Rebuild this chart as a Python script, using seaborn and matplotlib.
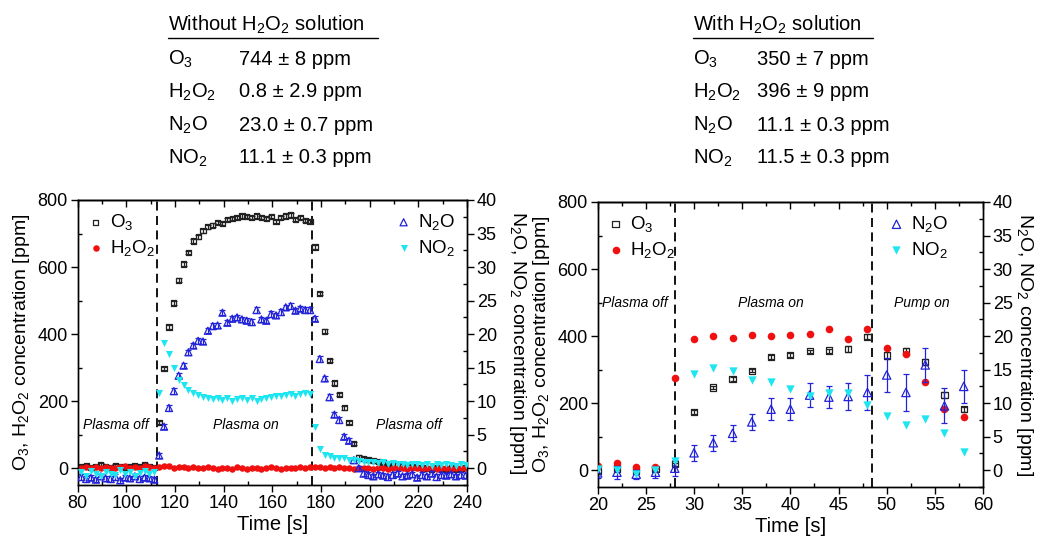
import numpy as np
import matplotlib.pyplot as plt
import seaborn as sns
from matplotlib.lines import Line2D
from matplotlib.ticker import MultipleLocator

# ================================================================================
# Data
# ================================================================================
# Left panel: without H2O2 solution (O3 / H2O2 on left axis, N2O / NO2 on right axis)
time_a = [81.5, 83.5, 85.5, 87.5, 89.5, 91.5, 93.5, 95.5, 97.5, 99.5, 101.5, 103.5,
          105.5, 107.5, 109.5, 111.5,
          113.5, 115.5, 117.5, 119.5, 121.5, 123.5, 125.5, 127.5, 129.5, 131.5, 133.5,
          135.5, 137.5, 139.5, 141.5, 143.5, 145.5, 147.5, 149.5, 151.5, 153.5, 155.5,
          157.5, 159.5, 161.5, 163.5, 165.5, 167.5, 169.5, 171.5, 173.5, 175.5,
          177.5, 179.5, 181.5, 183.5, 185.5, 187.5, 189.5, 191.5, 193.5, 195.5, 197.5,
          199.5, 201.5, 203.5, 205.5, 207.5, 209.5, 211.5, 213.5, 215.5, 217.5, 219.5,
          221.5, 223.5, 225.5, 227.5, 229.5, 231.5, 233.5, 235.5, 237.5, 239.5]
o3_a = [5, 8, 3, 6, 10, 4, 2, 7, 5, 3, 6, 9, 4, 12, 5, 3,
        137, 297, 421, 493, 561, 609, 643, 678, 690, 708, 720, 725, 733, 730, 742, 745,
        748, 752, 750, 748, 752, 747, 745, 750, 735, 748, 752, 755, 742, 748, 738, 735,
        660, 521, 409, 322, 254, 220, 180, 136, 73, 33, 28, 25, 22, 20, 18, 15,
        13, 10, 8, 6, 5, 3, 2, 0, -2, 1, 0, -3, 1, -2, 0, 2]
h2o2_a = [2, 4, 0, 3, 1, 5, 2, 0, 3, 6, 1, 4, 2, 8, 3, 2,
          4, 8, 6, 2, 5, 3, 1, 4, 2, 0, 3, 1, -2, 2, 0, -1,
          3, 1, -2, 0, 2, -1, 1, 3, 0, -2, 1, 2, 0, 4, 2, 3,
          5, 3, 2, 4, 1, 3, 0, 2, -1, 1, 0, 2, -2, 1, 0, -1,
          2, 0, 1, -1, 0, 2, -1, 0, 1, -2, 0, 1, -1, 0, 2, 0]
n2o_a = [-1.3, -1.6, -1.4, -1.7, -1.2, -1.5, -1.6, -1.3, -1.8, -1.4, -1.5, -1.2, -1.6, -1.4, -1.5, -1.7,
         1.9, 6.2, 9.0, 11.5, 13.8, 15.3, 17.3, 18.3, 19.0, 18.9, 20.5, 21.2, 21.3, 23.2, 21.7, 22.3,
         22.5, 22.2, 22.0, 21.8, 23.6, 22.2, 22.0, 23.0, 22.8, 23.3, 24.0, 24.2, 23.5, 23.8, 23.6, 23.6,
         22.3, 16.3, 13.4, 10.6, 8.0, 7.2, 4.7, 4.1, 1.2, 0.0, -0.8, -1.0, -1.2, -0.9, -1.1, -1.3,
         -1.0, -0.8, -1.2, -1.1, -0.9, -1.4, -1.0, -1.2, -0.8, -1.3, -1.0, -1.1, -0.9, -1.2, -1.0, -1.1]
no2_a = [-0.6, -1.1, -0.4, -0.9, -1.2, -0.5, -0.8, -1.0, -0.3, -0.9, -0.6, -1.1, -0.7, -0.4, -0.9, -0.6,
         11.2, 18.7, 17.0, 14.9, 13.2, 12.4, 11.7, 11.2, 10.9, 10.6, 10.4, 10.3, 10.5, 10.2, 10.4, 10.1,
         10.3, 10.5, 10.2, 10.4, 10.0, 10.3, 10.5, 10.6, 10.8, 10.7, 10.9, 11.0, 10.8, 11.1, 11.2, 11.0,
         6.2, 2.9, 2.0, 1.8, 1.6, 1.5, 1.6, 1.3, 1.2, 1.1, 1.0, 0.9, 1.0, 0.8, 0.9, 0.7,
         0.8, 0.6, 0.7, 0.5, 0.6, 0.7, 0.5, 0.6, 0.4, 0.6, 0.5, 0.7, 0.5, 0.4, 0.6, 0.5]
o3_err_a = 5      # ppm
n2o_err_a = 0.4   # ppm
switch_a = [112.5, 176.5]

# Right panel: with H2O2 solution
time_b = [20, 22, 24, 26, 28, 30, 32, 34, 36, 38, 40, 42, 44, 46, 48, 50, 52, 54, 56, 58]
o3_b = [-2, 5, -3, 4, 18, 174, 247, 272, 297, 338, 344, 355, 357, 362, 398, 342, 354, 323, 224, 182]
o3_err_b = [5, 5, 5, 5, 5, 5, 5, 5, 5, 5, 5, 5, 6, 8, 8, 10, 10, 10, 8, 8]
h2o2_b = [13, 21, 11, 10, 274, 392, 400, 395, 403, 401, 404, 406, 421, 392, 420, 364, 348, 264, 182, 160]
n2o_b = [-0.4, -0.3, -0.6, -0.3, 0.3, 2.6, 4.1, 5.5, 7.2, 9.1, 9.1, 11.2, 10.9, 11.0, 11.6, 14.2,
         11.6, 15.7, 9.6, 12.5]
n2o_err_b = [0.8, 1.0, 0.7, 0.8, 1.2, 1.2, 1.2, 1.2, 1.2, 1.6, 1.6, 1.8, 1.6, 2.0, 2.6, 2.6,
             2.8, 2.6, 2.6, 2.5]
no2_b = [0.15, 0.0, -0.6, 0.1, 1.4, 14.3, 15.2, 14.8, 13.5, 13.1, 12.1, 11.0, 11.5, 11.5, 9.8, 8.1,
         6.7, 7.6, 5.5, 2.7]
switch_b = [28, 48.5]

# Summary tables above the panels
species = ["O$_3$", "H$_2$O$_2$", "N$_2$O", "NO$_2$"]
values_a = ["744 ± 8 ppm", "0.8 ± 2.9 ppm", "23.0 ± 0.7 ppm", "11.1 ± 0.3 ppm"]
values_b = ["350 ± 7 ppm", "396 ± 9 ppm", "11.1 ± 0.3 ppm", "11.5 ± 0.3 ppm"]

# ================================================================================
# Styling
# ================================================================================
sns.set_theme(style="ticks")
plt.rcParams["font.family"] = ["Liberation Sans", "DejaVu Sans"]
plt.rcParams.update({
    "mathtext.fontset": "custom",
    "mathtext.rm": "Liberation Sans",
    "mathtext.it": "Liberation Sans:italic",
    "mathtext.bf": "Liberation Sans:bold",
    "axes.edgecolor": "black", "axes.linewidth": 1.0,
    "xtick.color": "black", "ytick.color": "black",
    "text.color": "black", "axes.labelcolor": "black",
})

BLACK, RED, BLUE, CYAN = "#222222", "#f01010", "#2323d8", "#1ee6f0"
LABEL_FS, TICK_FS, LEG_FS = 14, 13, 13.5

W, H = 1040, 538
fig = plt.figure(figsize=(W / 100, H / 100), dpi=100)
ax_a = fig.add_axes([77.7 / W, 1 - 485 / H, 389.3 / W, 285 / H])
ax_b = fig.add_axes([597.7 / W, 1 - 487 / H, 385.3 / W, 285 / H])


def style_panel(ax, ax2, xlim, xmaj, xmin, right_label_x):
    ax.set_xlim(*xlim)
    ax.set_ylim(-50, 800)
    ax2.set_ylim(-2.5, 40)
    ax.xaxis.set_major_locator(MultipleLocator(xmaj))
    ax.xaxis.set_minor_locator(MultipleLocator(xmin))
    ax.yaxis.set_major_locator(MultipleLocator(200))
    ax.yaxis.set_minor_locator(MultipleLocator(100))
    ax2.yaxis.set_major_locator(MultipleLocator(5))
    ax2.yaxis.set_minor_locator(MultipleLocator(2.5))
    for a in (ax, ax2):
        a.tick_params(which="major", direction="out", length=5, width=1, labelsize=TICK_FS, pad=2)
        a.tick_params(which="minor", direction="in", length=3, width=1)
        for s in a.spines.values():
            s.set_visible(True)
            s.set_linewidth(1.0)
    top = ax.secondary_xaxis("top")
    top.xaxis.set_major_locator(MultipleLocator(xmaj))
    top.xaxis.set_minor_locator(MultipleLocator(xmin))
    top.tick_params(which="major", direction="in", length=5, width=1, labeltop=False)
    top.tick_params(which="minor", direction="in", length=3, width=1)
    ax.set_xlabel("Time [s]", fontsize=14.5, va="center")
    ax.xaxis.set_label_coords(0.5, -0.138)
    ax.set_ylabel("O$_3$, H$_2$O$_2$ concentration [ppm]", fontsize=LABEL_FS, va="center")
    ax.yaxis.set_label_coords(-0.145, 0.5)
    ax2.set_ylabel("N$_2$O, NO$_2$ concentration [ppm]", fontsize=LABEL_FS,
                   rotation=270, va="center")
    ax2.yaxis.set_label_coords(right_label_x, 0.5)


def draw_panel(ax, t, o3, o3_err, h2o2, n2o, n2o_err, no2, switch, sz):
    ax2 = ax.twinx()
    # Left axis: O3 (open squares) and H2O2 (red dots)
    ax.errorbar(t, o3, yerr=o3_err, fmt="none", ecolor=BLACK, elinewidth=0.9,
                capsize=sz["cap"], capthick=0.9, zorder=2)
    sns.scatterplot(x=t, y=o3, ax=ax, marker="s", s=sz["sq"], facecolor="none",
                    edgecolor=BLACK, linewidth=0.9, label="O$_3$", zorder=3)
    sns.scatterplot(x=t, y=h2o2, ax=ax, marker="o", s=sz["dot"], color=RED,
                    edgecolor=RED, linewidth=0, label="H$_2$O$_2$", zorder=3)
    # Right axis: N2O (open triangles) and NO2 (cyan down triangles)
    ax2.errorbar(t, n2o, yerr=n2o_err, fmt="none", ecolor=BLUE, elinewidth=0.9,
                 capsize=sz["cap"], capthick=0.9, zorder=2)
    sns.scatterplot(x=t, y=n2o, ax=ax2, marker="^", s=sz["tri"], facecolor="none",
                    edgecolor=BLUE, linewidth=0.9, label="N$_2$O", zorder=3)
    sns.scatterplot(x=t, y=no2, ax=ax2, marker="v", s=sz["tri"], color=CYAN,
                    edgecolor=CYAN, linewidth=0, label="NO$_2$", zorder=3)
    for x in switch:
        ax.axvline(x, color="black", linestyle=(0, (5, 3)), linewidth=1.3, zorder=1)
    return ax2


# --------------------------------------------------------------------------------
# Left panel
# --------------------------------------------------------------------------------
ax2_a = draw_panel(ax_a, time_a, o3_a, o3_err_a, h2o2_a, n2o_a, n2o_err_a, no2_a, switch_a,
                   {"sq": 14, "dot": 22, "tri": 26, "cap": 2.2})
style_panel(ax_a, ax2_a, (80, 240), 20, 10, 1.13)
for x, txt in [(95.5, "Plasma off"), (149, "Plasma on"), (216, "Plasma off")]:
    ax_a.text(x, 130, txt, fontsize=10, style="italic", ha="center", va="center")

# --------------------------------------------------------------------------------
# Right panel
# --------------------------------------------------------------------------------
ax2_b = draw_panel(ax_b, time_b, o3_b, o3_err_b, h2o2_b, n2o_b, n2o_err_b, no2_b, switch_b,
                   {"sq": 20, "dot": 30, "tri": 36, "cap": 2.5})
style_panel(ax_b, ax2_b, (20, 60), 5, 2.5, 1.108)
for x, txt in [(23.9, "Plasma off"), (38.0, "Plasma on"), (53.6, "Pump on")]:
    ax_b.text(x, 498, txt, fontsize=10, style="italic", ha="center", va="center")

# Legends
LEG_KW = dict(frameon=False, fontsize=LEG_FS, handlelength=0.6, handletextpad=0.45,
              labelspacing=0.3, borderaxespad=0.35, borderpad=0.3)
for a in (ax_a, ax_b):
    a.legend(loc="upper left", **LEG_KW)
ax2_a.legend(loc="upper right", **LEG_KW)
ax2_b.legend(loc="upper right", bbox_to_anchor=(0.94, 1.0), **LEG_KW)

# --------------------------------------------------------------------------------
# Summary tables
# --------------------------------------------------------------------------------
baselines = [65, 97.3, 130.7, 163.3]
for x_name, x_val, heading, x_end, values in [
        (168, 239, "Without H$_2$O$_2$ solution", 378, values_a),
        (693, 757, "With H$_2$O$_2$ solution", 873, values_b)]:
    fig.text(x_name / W, 1 - 30.7 / H, heading, fontsize=14.5, va="baseline")
    fig.add_artist(Line2D([x_name / W, x_end / W], [1 - 37.5 / H] * 2, color="black",
                          linewidth=1.0, transform=fig.transFigure))
    for name, val, yb in zip(species, values, baselines):
        fig.text(x_name / W, 1 - yb / H, name, fontsize=14.5, va="baseline")
        fig.text(x_val / W, 1 - yb / H, val, fontsize=14.5, va="baseline")

fig.savefig("out.png", dpi=100)
